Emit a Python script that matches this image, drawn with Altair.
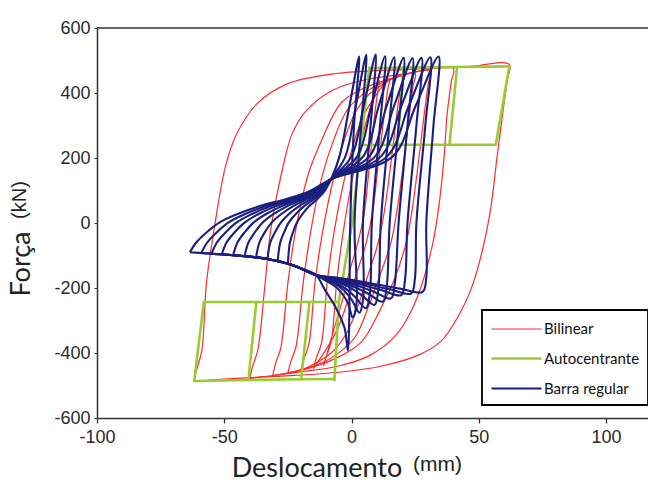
import altair as alt
import pandas as pd

# ---------------- Bilinear (red) loops: upper branch then lower branch ----------------
bil_62_x = [-62, -60.8, -58.8, -57, -54, -49.5, -45, -37, -25, -6, 20, 45, 62,
            61.2, 59.3, 57.3, 54, 47.5, 41, 35, 26.7, 12, -6, -30, -50, -62]
bil_62_y = [-488, -450, -392, -185, -20, 175, 276, 368, 429, 460, 472, 480, 488,
            440, 330, 210, 12, -192, -300, -365, -405, -440, -460, -472, -480, -488]
bil_40_x = [-40, -38.8, -36.8, -34, -31.8, -27, -23.3, -17.5, -7, 5, 20, 40,
            39.2, 37.5, 36.5, 34.5, 32, 28, 23.5, 17.5, 7, -5, -20, -40]
bil_40_y = [-478, -440, -390, -190, -25, 170, 275, 348, 410, 440, 458, 476,
            435, 330, 215, 62, -60, -180, -270, -345, -408, -440, -458, -478]
bil_31_x = [-31, -29.8, -27.8, -25, -22, -17, -12, -4, 5, 16, 31,
            30.2, 28.5, 26.5, 24, 21.5, 17, 12, 4, -5, -16, -31]
bil_31_y = [-470, -432, -385, -185, -25, 150, 250, 370, 415, 445, 468,
            430, 330, 200, 50, -60, -170, -255, -365, -412, -445, -470]
bil_25_x = [-25, -23.8, -21.8, -19, -16, -11.5, -7.5, -1.5, 6, 14, 25,
            24.2, 22.5, 20.5, 18, 15.5, 11, 7, 1.5, -6, -14, -25]
bil_25_y = [-462, -425, -380, -185, -25, 145, 245, 350, 405, 438, 460,
            422, 320, 190, 45, -60, -165, -250, -350, -405, -438, -462]
bil_20_x = [-20, -18.8, -16.8, -14.3, -11.3, -7, -3.5, 1.5, 7.5, 20,
            19.2, 17.5, 15.5, 13, 10.5, 6.5, 3, -2, -8, -20]
bil_20_y = [-455, -420, -375, -180, -25, 140, 240, 340, 400, 453,
            415, 315, 185, 40, -60, -160, -245, -340, -400, -455]
bil_15_x = [-15, -13.8, -11.8, -9.5, -6.8, -2.8, 0.5, 5, 15,
            14.2, 12.5, 10.5, 8.3, 5.8, 2, -1.5, -6, -15]
bil_15_y = [-448, -415, -370, -180, -25, 135, 235, 335, 445,
            410, 310, 180, 35, -60, -155, -240, -335, -448]
bil_11_x = [-11, -9.8, -8, -5.8, -3.2, 0.2, 3, 6.5, 11,
            10.3, 8.7, 7, 5, 2.5, -0.8, -3.5, -7, -11]
bil_11_y = [-440, -408, -365, -180, -25, 130, 230, 330, 438,
            405, 305, 175, 30, -60, -150, -235, -330, -440]

# ---------------- Autocentrante (green) segments ----------------
auto_elastic_x = [-6.7, -5, 0.2, 4.5, 7]
auto_elastic_y = [-484, -243, 0, 300, 478]
auto_top_x = [7, 20.5, 41.5, 62]
auto_top_y = [476, 478, 480, 482]
auto_right_x = [62, 56.7]
auto_right_y = [482, 241]
auto_midpos_x = [56.7, 38.5, 18, 4.5]
auto_midpos_y = [241, 241, 241, 240]
auto_u40_x = [41.5, 38.5]
auto_u40_y = [480, 241]
auto_u20_x = [20.5, 18]
auto_u20_y = [478, 241]
auto_bottom_x = [-61.8, -40.5, -19.8, -6.7]
auto_bottom_y = [-486, -483, -481, -480]
auto_left_x = [-61.8, -58]
auto_left_y = [-486, -243]
auto_midneg_x = [-58, -37.4, -16.5, -5]
auto_midneg_y = [-243, -243, -243, -243]
auto_un40_x = [-40.5, -37.4]
auto_un40_y = [-483, -243]
auto_un20_x = [-19.8, -16.5]
auto_un20_y = [-481, -243]

# ---------------- Barra regular (blue) pinched loops ----------------
bar_0_x = [-25, -24.2, -23.0, -21.4, -19.3, -16.6, -13.4, -10.6, -8, -4.7, -0.8, 3.0, 1.0, -0.5, -0.9, -1.4, -2.7, -6, -10.5, -14, -20, -25]
bar_0_y = [-126, -60, -29, 2, 27, 52, 74, 98, 135, 205, 360, 512, 300, 0, -300, -393, -324, -263, -205, -160, -140, -126]
bar_1_x = [-29, -28.0, -26.5, -24.6, -22.0, -18.6, -14.7, -11.2, -8, -2.4, 1.7, 5.8, 3.8, 1.2, 2.0, 0.5, -1.5, -5, -9.5, -14, -23, -29]
bar_1_y = [-118, -60, -29, 2, 27, 52, 74, 98, 135, 205, 360, 518, 300, 0, -246, -291, -245, -205, -180, -160, -130, -118]
bar_2_x = [-33, -31.9, -30.1, -27.7, -24.7, -20.6, -15.9, -11.8, -8, 0, 4.8, 9.5, 7.5, 4.5, 4.6, 3.1, 0, -4, -9, -14, -23, -33]
bar_2_y = [-111, -60, -29, 2, 27, 52, 74, 98, 135, 205, 360, 518, 300, 0, -231, -276, -235, -200, -177, -160, -130, -111]
bar_3_x = [-37.5, -36.2, -34.1, -31.3, -27.7, -22.9, -17.4, -12.5, -8, 2.3, 7.8, 13.2, 11.2, 8.0, 7.2, 5.7, 1.5, -3, -8.5, -14, -23, -31, -37.5]
bar_3_y = [-106, -60, -29, 2, 27, 52, 74, 98, 135, 205, 360, 513, 300, 0, -217, -262, -228, -198, -175, -160, -130, -114, -106]
bar_4_x = [-42, -40.5, -38.0, -34.8, -30.7, -25.2, -18.8, -13.2, -8, 4.6, 10.7, 16.8, 14.8, 11.5, 10.5, 9.0, 4, -1.5, -8, -14, -23, -33.5, -42]
bar_4_y = [-102, -60, -29, 2, 27, 52, 74, 98, 135, 205, 360, 510, 300, 0, -207, -252, -222, -195, -174, -160, -130, -110, -102]
bar_5_x = [-46.5, -44.8, -42.0, -38.4, -33.7, -27.4, -20.2, -13.9, -8, 7, 13.8, 20.5, 18.5, 15.0, 13.8, 12.3, 6.5, 0, -7.5, -14, -23, -33.5, -41, -46.5]
bar_5_y = [-99, -60, -29, 2, 27, 52, 74, 98, 135, 205, 360, 508, 300, 0, -197, -242, -217, -193, -173, -160, -130, -110, -103, -99]
bar_6_x = [-51, -49.1, -46.0, -41.9, -36.7, -29.7, -21.6, -14.6, -8, 9.3, 16.7, 24.0, 22.0, 18.5, 17.0, 15.5, 9, 1.5, -7, -14, -23, -33.5, -46.7, -51]
bar_6_y = [-97, -60, -29, 2, 27, 52, 74, 98, 135, 205, 360, 507, 300, 0, -187, -232, -212, -191, -172, -160, -130, -110, -99, -97]
bar_7_x = [-55, -52.9, -49.5, -45.1, -39.3, -31.7, -22.9, -15.2, -8, 11.6, 19.6, 27.5, 25.5, 22.0, 21.0, 19.5, 12, 3.5, -6, -14, -23, -33.5, -46.7, -55]
bar_7_y = [-94.5, -60, -29, 2, 27, 52, 74, 98, 135, 205, 360, 508, 300, 0, -177, -222, -207, -189, -171, -160, -130, -110, -99, -94.5]
bar_8_x = [-59, -56.7, -53.0, -48.3, -42.0, -33.7, -24.2, -15.8, -8, 14, 22.5, 31.0, 29.0, 25.5, 24.9, 23.4, 15, 5.5, -5, -14, -23, -33.5, -46.7, -54, -59]
bar_8_y = [-92, -60, -29, 2, 27, 52, 74, 98, 135, 205, 360, 510, 300, 0, -172, -217, -204, -187, -170, -160, -130, -110, -99, -95, -92]
bar_9_x = [-63.5, -61.0, -57.0, -51.8, -45.0, -36.0, -25.6, -16.5, -8, 16.2, 25.2, 34.2, 32.2, 29.4, 29.4, 27.9, 19, 8, -4, -14, -23, -33.5, -46.7, -55, -63.5]
bar_9_y = [-90, -60, -29, 2, 27, 52, 74, 98, 135, 205, 360, 512, 300, 0, -167, -212, -202, -186, -170, -160, -130, -110, -99, -94.5, -90]

series_names = ["Bilinear", "Autocentrante", "Barra regular"]
series_colors = ["#ff2a2a", "#99cc33", "#1a1f7e"]
series_widths = [1.2, 2.6, 2.1]

rows = []


def add(serie, loop, xs, ys):
    for i, (a, b) in enumerate(zip(xs, ys)):
        rows.append({"serie": serie, "loop": loop, "ord": i, "x": a, "y": b})


for name, xs, ys in [("b62", bil_62_x, bil_62_y), ("b40", bil_40_x, bil_40_y),
                     ("b31", bil_31_x, bil_31_y), ("b25", bil_25_x, bil_25_y),
                     ("b20", bil_20_x, bil_20_y), ("b15", bil_15_x, bil_15_y),
                     ("b11", bil_11_x, bil_11_y)]:
    add("Bilinear", name, xs, ys)

for name, xs, ys in [("el", auto_elastic_x, auto_elastic_y), ("top", auto_top_x, auto_top_y),
                     ("r", auto_right_x, auto_right_y), ("mp", auto_midpos_x, auto_midpos_y),
                     ("u40", auto_u40_x, auto_u40_y), ("u20", auto_u20_x, auto_u20_y),
                     ("bot", auto_bottom_x, auto_bottom_y), ("l", auto_left_x, auto_left_y),
                     ("mn", auto_midneg_x, auto_midneg_y), ("n40", auto_un40_x, auto_un40_y),
                     ("n20", auto_un20_x, auto_un20_y)]:
    add("Autocentrante", name, xs, ys)

for name, xs, ys in [("k0", bar_0_x, bar_0_y), ("k1", bar_1_x, bar_1_y), ("k2", bar_2_x, bar_2_y),
                     ("k3", bar_3_x, bar_3_y), ("k4", bar_4_x, bar_4_y), ("k5", bar_5_x, bar_5_y),
                     ("k6", bar_6_x, bar_6_y), ("k7", bar_7_x, bar_7_y), ("k8", bar_8_x, bar_8_y),
                     ("k9", bar_9_x, bar_9_y)]:
    add("Barra regular", name, xs, ys)

df = pd.DataFrame(rows)

W, H = 551, 390

xenc = alt.X("x:Q", scale=alt.Scale(domain=[-100, 116.5], nice=False, zero=False),
             axis=alt.Axis(values=[-100, -50, 0, 50, 100], title=None, grid=False,
                           domainColor="#333", domainWidth=1.5, tickColor="#333", tickSize=5,
                           tickWidth=1.3, labelFont="Liberation Sans", labelFontSize=18,
                           labelColor="#2a2a2a", labelPadding=5, labelFlush=False,
                           labelExpr="'' + datum.value"))
yenc = alt.Y("y:Q", scale=alt.Scale(domain=[-600, 600], nice=False, zero=False),
             axis=alt.Axis(values=[-600, -400, -200, 0, 200, 400, 600], title=None, grid=False,
                           domainColor="#333", domainWidth=1.5, tickColor="#333", tickSize=3,
                           labelFont="Liberation Sans", labelFontSize=18, labelColor="#2a2a2a",
                           labelPadding=4, labelFlush=False, labelExpr="'' + datum.value"))

legend = alt.Legend(title=None, orient="none", legendX=385, legendY=282,
                    symbolType="M-1,0H4", symbolSize=400, labelOffset=31,
                    labelFont="Lato", labelFontSize=15, labelColor="#111",
                    rowPadding=10, padding=8, strokeColor="black", fillColor="white")

color = alt.Color("serie:N", scale=alt.Scale(domain=series_names, range=series_colors), legend=legend)
swidth = alt.StrokeWidth("serie:N", scale=alt.Scale(type="ordinal", domain=series_names, range=series_widths),
                         legend=legend)

base = alt.Chart(df)
red = base.transform_filter(alt.datum.serie == "Bilinear").mark_line(interpolate="catmull-rom").encode(
    x=xenc, y=yenc, color=color, strokeWidth=swidth, detail="loop:N", order="ord:Q")
green = base.transform_filter(alt.datum.serie == "Autocentrante").mark_line(strokeCap="round").encode(
    x=xenc, y=yenc, color=color, strokeWidth=swidth, detail="loop:N", order="ord:Q")
blue = base.transform_filter(alt.datum.serie == "Barra regular").mark_line(interpolate="catmull-rom").encode(
    x=xenc, y=yenc, color=color, strokeWidth=swidth, detail="loop:N", order="ord:Q")

top_rule = alt.Chart(pd.DataFrame({"y": [600]})).mark_rule(color="#333", strokeWidth=1.5).encode(
    y="y:Q", x=alt.value(0), x2=alt.value(W))

xt1 = alt.Chart(pd.DataFrame({"t": ["Deslocamento"]})).mark_text(
    font="Lato", fontSize=27, align="center", baseline="middle", color="#222").encode(
    text="t:N", x=alt.value(220), y=alt.value(441))
xt2 = alt.Chart(pd.DataFrame({"t": ["(mm)"]})).mark_text(
    font="Liberation Sans", fontSize=21, align="left", baseline="middle", color="#222").encode(
    text="t:N", x=alt.value(316), y=alt.value(437))
yt1 = alt.Chart(pd.DataFrame({"t": ["Força"]})).mark_text(
    font="Lato", fontSize=27, align="center", baseline="middle", angle=270, color="#222").encode(
    text="t:N", x=alt.value(-75), y=alt.value(236))
yt2 = alt.Chart(pd.DataFrame({"t": ["(kN)"]})).mark_text(
    font="Liberation Sans", fontSize=20, align="center", baseline="middle", angle=270, color="#222").encode(
    text="t:N", x=alt.value(-77), y=alt.value(172))

chart = alt.layer(red, green, blue, top_rule, xt1, xt2, yt1, yt2).properties(
    width=W, height=H, padding={"left": 97, "top": 28, "right": 0, "bottom": 77},
    autosize=alt.AutoSizeParams(type="none"), background="white"
).configure_view(stroke=None).configure_legend(strokeWidth=1.8)

chart.save("out.html", embed_options={"renderer": "svg", "actions": False})
